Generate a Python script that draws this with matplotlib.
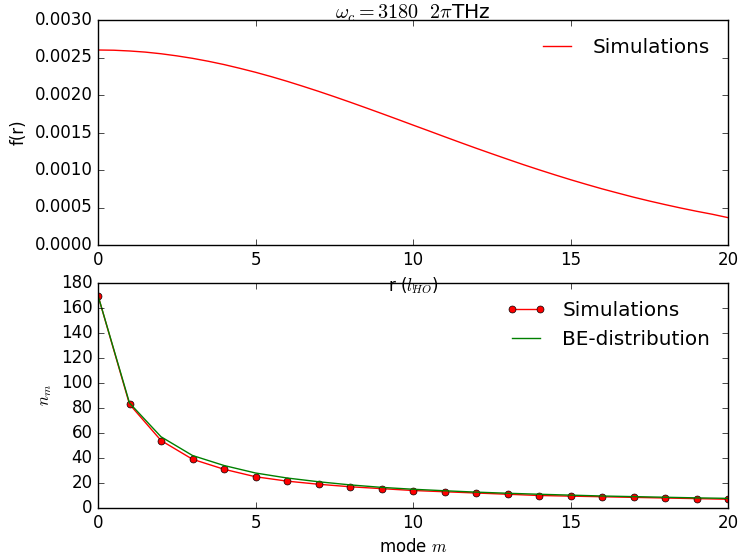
import matplotlib
matplotlib.use("Agg")
import matplotlib.pyplot as plt
import numpy as np

plt.style.use('classic')

# %% --- datos ---
r = [0, 0.5, 1, 1.5, 2, 2.5, 3, 3.5, 4, 4.5, 5, 5.5, 6, 6.5, 7, 7.5, 8,
     8.5, 9, 9.5, 10, 10.5, 11, 11.5, 12, 12.5, 13, 13.5, 14, 14.5, 15,
     15.5, 16, 16.5, 17, 17.5, 18, 18.5, 19, 19.5, 20]
f_r = [0.002600, 0.002597, 0.002587, 0.002572, 0.002550, 0.002522,
       0.002489, 0.002450, 0.002406, 0.002356, 0.002303, 0.002245,
       0.002183, 0.002117, 0.002049, 0.001978, 0.001905, 0.001830,
       0.001754, 0.001677, 0.001599, 0.001522, 0.001444, 0.001367,
       0.001291, 0.001217, 0.001144, 0.001072, 0.001003, 0.000936,
       0.000871, 0.000809, 0.000749, 0.000693, 0.000638, 0.000587,
       0.000539, 0.000493, 0.000450, 0.000410, 0.000365]

modes = list(range(21))
n_sim = [170, 83, 54, 39, 31, 25, 21.5, 19, 17, 15.5, 14, 13, 12, 11,
         10, 9.5, 9, 8.5, 8, 7.5, 7]
n_be = [170, 84, 57, 42, 34, 28, 24, 21, 18.5, 16.5, 15, 13.8, 12.7,
        11.8, 11, 10.3, 9.6, 9.1, 8.6, 8.1, 7.7]

# %% --- graficos ---
fig = plt.figure(figsize=(7.39, 5.58), dpi=100, facecolor='white')
ax1 = fig.add_axes([98/739, 1-245/558, 630/739, 225/558])
ax2 = fig.add_axes([98/739, 1-508/558, 630/739, 225/558])
ax1.set_zorder(3)  # la etiqueta x de arriba queda encima del eje de abajo

ax1.plot(r, f_r, '-', color='red', label='Simulations')
ax1.set_xlim(0, 20)
ax1.set_ylim(0, 0.003)
ax1.set_yticks(np.arange(0, 0.0031, 0.0005))
ax1.set_yticklabels(['%.4f' % v for v in np.arange(0, 0.0031, 0.0005)])
ax1.set_xlabel(r'r ($l_{HO}$)')
ax1.set_ylabel('f(r)')
ax1.set_title(r'$\omega_c = 3180\ \ 2\pi$THz', fontsize=14.5, pad=1)
ax1.legend(loc='upper right', frameon=False)

ax2.plot(modes, n_sim, 'o-', color='red', markerfacecolor='red',
         markeredgecolor='black', markersize=5, label='Simulations')
ax2.plot(modes, n_be, '-', color='green', label='BE-distribution')
ax2.set_xlim(0, 20)
ax2.set_ylim(0, 180)
ax2.set_yticks(np.arange(0, 181, 20))
ax2.set_xlabel(r'mode $m$')
ax2.set_ylabel(r'$n_m$')
ax2.legend(loc='upper right', frameon=False)

fig.savefig('out.png', dpi=100, facecolor='white')
